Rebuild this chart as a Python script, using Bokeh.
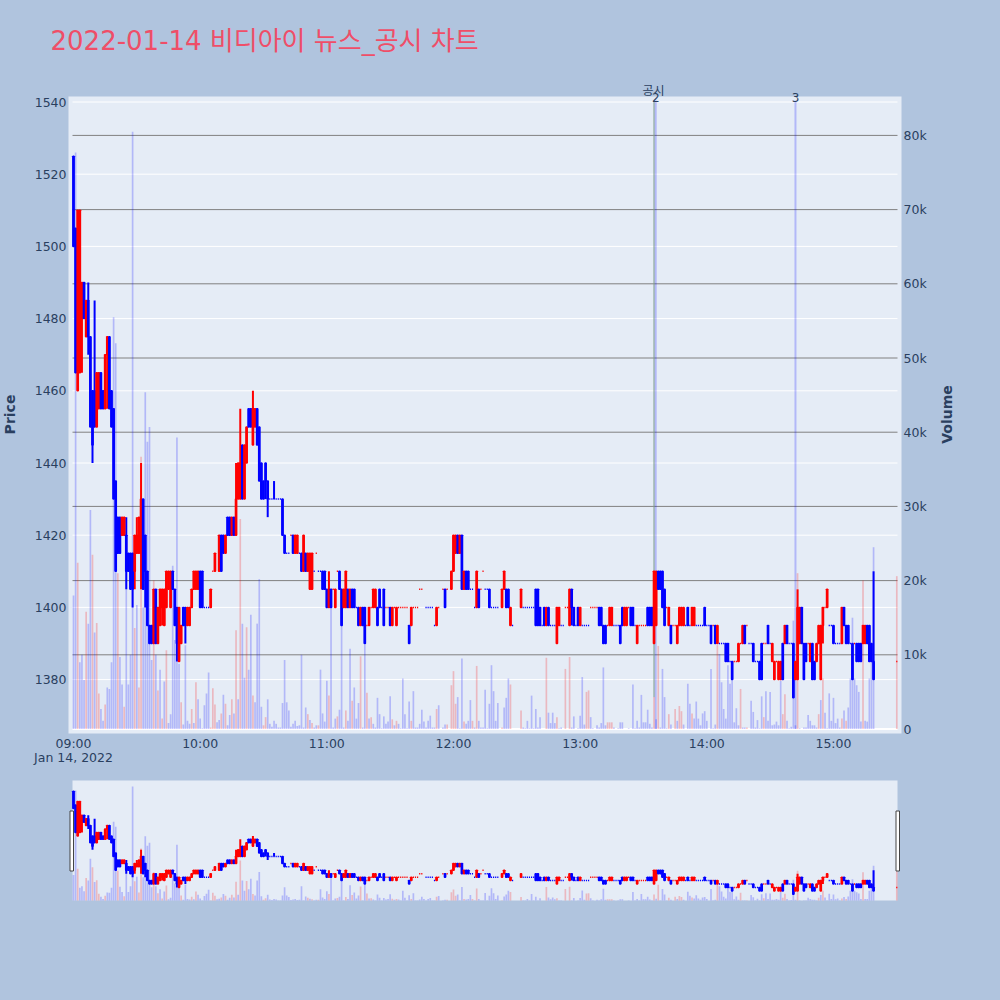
import math
from bokeh.plotting import figure
from bokeh.layouts import column
from bokeh.models import (Range1d, LinearAxis, FixedTicker, Label,
                          CustomJSTickFormatter, ColumnDataSource)
from bokeh.embed import file_html
from bokeh.resources import INLINE

TITLE = "2022-01-14 비디아이 뉴스_공시 차트"
DATE_LABEL = "Jan 14, 2022"
FONT = "'DejaVu Sans', 'Noto Sans CJK KR', sans-serif"
_ = None

# one entry per minute from 09:00; None = no trade in that minute
opens = [
 1525,1505,1460,1465,1480,1490,1475,1485,1475,1460, 1460,1450,1455,1465,1460,1455,1470,1475,1460,1455,
 1435,1425,1425,1420,1420,1420,1415,1415,1415,1410, 1415,1415,1415,1430,1420,1410,1395,1395,1390,1405,
 1390,1395,1400,1395,1400,1405,1400,1410,1405,1400, 1385,1390,1400,1400,1395,1395,1400,1405,1405,1405,
 1410,1410,1400,1400,1400,1400,1410,1410,_,1410, 1420,1420,1415,1425,1425,1420,1425,1420,1430,1430,
 1445,1430,1440,1455,1455,1445,1450,1455,1450,1440, 1435,1440,1435,1430,1430,1430,1430,1430,1430,1430,
 1420,1415,1415,1420,1420,1415,1415,1415,1415,1410, 1415,1410,1405,1405,1410,1415,1410,1410,1410,1410,
 1405,1400,1405,1405,1400,1410,1410,1405,1400,1400, 1405,1400,1405,1405,1400,1400,1395,1400,1400,1395,
 1395,1400,1400,1400,1400,1405,1400,1405,1400,1400, 1400,1395,1400,1395,1400,1400,1400,1400,1400,1395,
 1395,1400,1400,1400,1405,1405,_,1400,1400,1400, 1400,1395,1395,1400,_,1405,1405,1405,_,1405,
 1410,1415,1420,1415,1420,1405,1410,1410,1405,1405, 1400,1400,1405,1405,1410,1405,1405,1405,1400,1400,
 1400,1400,_,1400,1405,1405,1405,1395,1395,_, _,_,1400,1400,1400,1400,1400,1400,1400,1405,
 1405,1400,1395,1400,1395,1400,1395,1395,1395,1390, 1395,1395,1395,1400,1400,1395,1405,1400,1395,1400,
 1395,1395,1395,1395,1395,1400,1400,1400,1400,1400, 1400,1395,1395,1395,1395,1395,1395,1395,1395,1395,
 1400,1395,1395,1400,1400,1400,1395,1390,1395,1395, 1395,1395,1400,1400,1400,1390,1395,1410,1410,1410,
 1405,1400,1395,1395,1395,1395,1390,1395,1395,1395, 1395,1400,1395,1395,1395,1395,1395,1395,1395,1400,
 1395,1395,1395,1395,1395,1390,1390,1390,1390,1390, 1390,1385,1385,1385,1385,1385,1390,1390,1395,1395,
 1390,1390,1390,1385,1385,1385,1390,1390,1390,1395, 1390,1385,1380,1385,1380,1380,1390,1390,1395,1390,
 1390,1390,1380,1380,1390,1400,1390,1390,1390,1385, 1390,1385,1385,1390,1380,1395,1400,1400,1395,1395,
 1395,1390,1390,1390,1390,1400,1395,1395,1390,1390, 1390,1390,1390,1390,1390,1390,1395,1395,1390,1385,
 _,_,_,_,_,_,_,_,_,_, 1385]
closes = [
 1500,1465,1510,1510,1490,1480,1485,1475,1450,1445, 1450,1465,1465,1455,1455,1470,1475,1455,1450,1430,
 1410,1415,1415,1425,1425,1410,1410,1405,1405,1420, 1420,1425,1430,1405,1410,1395,1390,1390,1405,1390,
 1400,1405,1405,1405,1410,1410,1410,1405,1395,1390, 1400,1395,1395,1395,1400,1400,1405,1410,1410,1410,
 1400,1400,1400,1400,1400,1405,1410,1415,_,1420, 1410,1415,1420,1420,1420,1425,1420,1430,1440,1440,
 1430,1445,1450,1450,1450,1455,1455,1445,1435,1430, 1430,1435,1430,1430,1430,1430,1430,1430,1430,1420,
 1415,1415,1415,1420,1415,1420,1420,1415,1410,1420, 1410,1415,1415,1415,1410,1415,1410,1410,1405,1405,
 1400,1405,1400,1405,1405,1410,1405,1395,1405,1410, 1400,1405,1400,1400,1400,1395,1400,1395,1390,1395,
 1400,1400,1405,1405,1395,1400,1400,1395,1400,1400, 1395,1400,1400,1400,1400,1400,1400,1400,1400,1390,
 1400,1400,1400,1400,1405,1405,_,1400,1400,1400, 1400,1395,1400,1400,_,1405,1400,1405,_,1410,
 1420,1420,1415,1420,1405,1410,1405,1405,1405,1405, 1400,1410,1400,1405,1410,1405,1405,1400,1400,1400,
 1400,1400,_,1405,1410,1400,1400,1400,1395,_, _,_,1405,1400,1400,1400,1400,1400,1400,1395,
 1395,1395,1395,1395,1400,1395,1395,1395,1395,1400, 1400,1395,1395,1400,1400,1405,1400,1395,1395,1395,
 1400,1395,1395,1395,1395,1400,1400,1400,1400,1395, 1395,1390,1390,1395,1400,1400,1395,1395,1395,1390,
 1395,1400,1400,1400,1395,1395,1395,1395,1395,1395, 1395,1395,1395,1395,1395,1410,1410,1405,1405,1400,
 1395,1400,1400,1390,1395,1395,1395,1400,1400,1400, 1395,1395,1395,1400,1400,1395,1395,1395,1395,1395,
 1395,1395,1390,1395,1390,1395,1390,1390,1390,1385, 1385,1385,1380,1385,1385,1390,1390,1395,1390,1395,
 1390,1390,1385,1385,1385,1380,1380,1390,1390,1390, 1390,1390,1385,1385,1385,1385,1380,1395,1390,1390,
 1390,1375,1385,1400,1400,1390,1380,1385,1390,1390, 1380,1380,1390,1395,1395,1400,1400,1405,1395,1395,
 1390,1390,1390,1390,1400,1395,1390,1390,1390,1380, 1390,1385,1385,1385,1395,1395,1390,1385,1385,1380,
 _,_,_,_,_,_,_,_,_,_, 1385]
# wicks that reach beyond the candle body
wick_highs = {4:1490, 7:1490, 10:1485, 16:1475, 25:1425, 30:1425, 32:1440, 77:1440, 79:1455, 85:1460,
              95:1435, 121:1410, 343:1405, 379:1410}
wick_lows = {4:1465, 7:1470, 9:1440, 10:1450, 16:1455, 25:1405, 28:1400, 29:1405, 32:1405, 34:1400,
             42:1395, 49:1385, 53:1390, 91:1430, 92:1425, 236:1395, 355:1390}

volumes = [
 18,77.7,22.4,9,10,6.6,15.8,14.2,29.5,23.5, 13,14.3,4.8,2.7,1.1,3.3,5.6,5.4,9,55.5,
 52,21,9.7,6,3,24,6,10,80.5,13.6, 16.7,5.6,36.7,16.4,45.4,38.7,40.7,9.3,20,10,
 5.2,8,1.4,6.4,10.6,0.8,2,22,12,39.3, 8.8,3.6,0.6,11.3,1.1,0.7,2.7,0.8,6.3,4,
 1.4,0.1,3.2,4.8,7.6,0.2,5.5,3.3,0.9,1.2, 2.1,4.6,3.4,0.5,1.9,4,2.1,13.3,4,28.3,
 14.2,6.9,13.7,8,15.4,4.5,3.6,14.2,20.2,3, 0.5,1.6,4,0.7,0.3,1.1,0.7,0.2,0.2,3.5,
 9.3,3.6,2.5,0.3,0.7,1.1,0.4,0.5,10,0.2, 2.9,2,1.2,0.8,0.2,0.5,0.5,8,2.1,1,
 6.5,4.5,17,0.2,1.4,1.7,2.6,14,0.2,2.5, 1.1,10.8,3.8,5.6,1.4,3.5,9.8,0.2,11.4,4.9,
 1.4,1.6,0.7,0.2,4.2,2,0.1,1.7,0.7,1, 4.4,1.3,0.5,1.1,0.7,0.1,6.8,2,0.1,3.7,
 1.1,5.1,0.2,0.2,0.7,2.6,1,0.2,1.1,1.8, 0.2,0.2,2.7,3.2,0,0.2,0.6,0.6,0,5.9,
 7.8,3.4,4.3,0.1,9.5,1,0.7,1.1,3.9,1.1, 0.2,8.5,1.1,0.2,0.2,5.3,0.1,3.4,8.6,5.1,
 1.1,3.5,0,0.2,2.9,4.2,6.8,6,0,0, 0,0,2.5,0.2,0.1,1.1,0.1,4.5,0.1,2.7,
 0.2,1.6,0,0,9.6,2.2,0.8,2.2,0.8,1.6, 0.1,0.2,0,8.1,0,9.7,0.2,1.7,0,0.1,
 1.8,7,0.6,5,5.2,1.6,0.1,0,0.5,0.2, 0.8,8.3,0.5,0.9,0.9,0.9,0.2,0,0.1,0.9,
 0.9,0,0,0.1,0,6,0.1,1.1,0.2,4.6, 0.9,0.9,2.6,0.7,0.2,4.3,1.3,11.2,0.2,8.1,
 4.3,0.1,2,0.6,0,2.7,1.1,3.1,2.4,0.6, 0,6.1,3.4,2.1,1.4,3.7,1.4,0.5,2.1,2.4,
 1.1,0,8.1,0.1,0.6,11.3,10.1,6.3,2.7,1.4, 8.6,6.1,7.5,0.9,2.8,0.5,5.4,0.2,0.2,0.2,
 0,3.8,2.3,0.2,1.2,0.1,4.4,1.6,5.1,1.1, 5,0.5,0.6,1,0.5,6.5,2,4.7,1.1,0.1,
 0.3,14.6,0.5,21,0.1,0,0.2,0.2,1.9,1.1, 0.5,0.5,0.2,2,3.9,6.8,2.2,0.1,4.8,1.1,
 4.2,0.8,1.4,0.2,1.4,2.5,1.1,2.9,6.8,15, 6.8,5.9,5,1,20,1.1,1,6.8,9.2,24.5,
 0,0,0,0,0,0,0,0,0,0, 20.6]
red_volume_minutes = [2,6,9,11,12,15,21,24,29,31,32,38,40,42,44,51,56,58,65,66,67,70,72,75,77,79,82,85,90,91,
 111,113,116,121,125,129,132,136,139,141,151,153,160,172,177,179,180,181,185,189,191,203,207,212,224,229,
 233,235,243,244,253,254,255,275,277,282,285,287,288,293,305,316,319,327,336,337,343,353,355,364,366,374,390]

hour_ticks = [0, 60, 120, 180, 240, 300, 360]
hour_labels = ["09:00", "10:00", "11:00", "12:00", "13:00", "14:00", "15:00"]
price_ticks = [1380, 1400, 1420, 1440, 1460, 1480, 1500, 1520, 1540]
volume_ticks = [0, 10, 20, 30, 40, 50, 60, 70, 80]
disclosure_minute = 275
disclosure_label = "공시"
marker_minutes = [275.8, 342]
marker_labels = ["2", "3"]

PAPER = "#B0C4DE"
PLOT = "#E5ECF6"
TICK = "#2a3f5f"

# pixel layout of the canvas: both figures' frames fill the canvas, so that
# titles and labels outside the plot area are not clipped
PX_PER_MIN = 2.111
def mx(px): return (px - 73) / PX_PER_MIN
def py(px): return 1540 - (px - 101.5) / 3.61
def vy(px): return (728.5 - px) / 7.42
def spy(px): return 1366 + (900 - px) / 0.687       # slider, page px
def svy(px): return (900 - px) / 1.417

# direction: close vs open; unchanged candles follow the previous close
up, prev_c, last = [], None, True
for o, c in zip(opens, closes):
    if o is None:
        up.append(last)
        continue
    if c > o:
        last = True
    elif c < o:
        last = False
    elif prev_c is not None and c != prev_c:
        last = c > prev_c
    up.append(last)
    prev_c = c

rows = [i for i, o in enumerate(opens) if o is not None]
candles = ColumnDataSource(dict(
    x=rows,
    top=[max(opens[i], closes[i]) for i in rows],
    bottom=[min(opens[i], closes[i]) for i in rows],
    high=[wick_highs.get(i, max(opens[i], closes[i])) for i in rows],
    low=[wick_lows.get(i, min(opens[i], closes[i])) for i in rows],
    color=["#ff0000" if up[i] else "#0000ff" for i in rows],
))
vols = ColumnDataSource(dict(
    x=list(range(len(volumes))),
    v=volumes,
    color=["#ff0000" if i in red_volume_minutes else "#0000ff" for i in range(len(volumes))],
))


def draw_series(fig):
    fig.vbar(x="x", top="v", bottom=0, width=0.8, color="color", alpha=0.22, line_width=0,
             source=vols, y_range_name="vol")
    fig.segment(x0="x", x1="x", y0="low", y1="high", color="color", line_width=2, source=candles)
    fig.vbar(x="x", top="top", bottom="bottom", width=0.55, fill_color="color", line_color="color",
             line_width=1.5, source=candles)


main = figure(width=1000, height=770, output_backend="svg", toolbar_location=None,
              x_axis_location=None, y_axis_location=None,
              x_range=Range1d(mx(0), mx(1000)), y_range=Range1d(py(770), py(0)),
              min_border=0, background_fill_color=PAPER, border_fill_color=PAPER, outline_line_color=None)
main.extra_y_ranges = {"vol": Range1d(vy(770), vy(0))}
main.grid.visible = False

L, R = mx(72), mx(897)
main.quad(left=mx(68), right=mx(901), bottom=py(733), top=py(96), fill_color=PLOT, line_color=None)
main.segment(x0=[L] * len(price_ticks), x1=[R] * len(price_ticks), y0=price_ticks, y1=price_ticks,
             line_color="white", line_width=1)
main.segment(x0=[L] * 8, x1=[R] * 8, y0=volume_ticks[1:], y1=volume_ticks[1:], y_range_name="vol",
             line_color="#808080", line_width=1)
main.segment(x0=[L], x1=[R], y0=[0], y1=[0], y_range_name="vol", line_color="white", line_width=2)

x_axis = LinearAxis(fixed_location=py(729), ticker=FixedTicker(ticks=hour_ticks),
                    major_label_overrides=dict(zip(hour_ticks, hour_labels)))
price_axis = LinearAxis(fixed_location=L, ticker=FixedTicker(ticks=price_ticks))
vol_axis = LinearAxis(fixed_location=R, y_range_name="vol", ticker=FixedTicker(ticks=volume_ticks),
                      formatter=CustomJSTickFormatter(code="return tick === 0 ? '0' : tick + 'k'"))
main.add_layout(x_axis, "below")
main.add_layout(price_axis, "left")
main.add_layout(vol_axis, "right")
for ax in [x_axis, price_axis, vol_axis]:
    ax.axis_line_color = None
    ax.major_tick_line_color = None
    ax.minor_tick_line_color = None
    ax.major_tick_in = 0
    ax.major_tick_out = 0
    ax.minor_tick_in = 0
    ax.minor_tick_out = 0
    ax.major_label_text_font = FONT
    ax.major_label_text_font_size = "12.5px"
    ax.major_label_text_color = TICK
    ax.major_label_standoff = 6

main.line(x=[disclosure_minute, disclosure_minute], y=[4.3, vy(100)], y_range_name="vol",
          line_color="#7a9a88", line_width=1)
for m in marker_minutes:
    main.line(x=[m, m], y=[0, vy(100)], y_range_name="vol",
              line_color="#0000ff", line_alpha=0.22, line_width=2)
draw_series(main)


def put(x, y, text, size, color=TICK, style="normal", align="center", angle=0.0):
    main.add_layout(Label(x=x, y=y, text=text, text_font=FONT, text_font_size=size, text_color=color,
                          text_font_style=style, text_align=align, text_baseline="middle", angle=angle))


put(mx(653), py(90), disclosure_label, "12px")
for m, t in zip(marker_minutes, marker_labels):
    put(m, py(97), t, "12px")
put(0, py(757), DATE_LABEL, "12.5px")
put(mx(50), py(40), TITLE, "26px", color="#EF4E68", align="left")
put(mx(9.5), py(414), "Price", "14px", style="bold", angle=math.pi / 2)
put(mx(946), py(414), "Volume", "14px", style="bold", angle=math.pi / 2)

slider = figure(width=1000, height=230, output_backend="svg", toolbar_location=None,
                x_axis_location=None, y_axis_location=None,
                x_range=Range1d(mx(0), mx(1000)), y_range=Range1d(spy(1000), spy(770)),
                min_border=0, background_fill_color=PAPER, border_fill_color=PAPER, outline_line_color=None)
slider.extra_y_ranges = {"vol": Range1d(svy(1000), svy(770))}
slider.grid.visible = False
slider.quad(left=L, right=R, bottom=spy(900), top=spy(780), fill_color=PLOT, line_color=None)
draw_series(slider)
for a, b in ((mx(69.5), mx(73)), (mx(895.5), mx(899))):
    slider.quad(left=a, right=b, bottom=spy(870.5), top=spy(810.5),
                fill_color="white", line_color="#444444", line_width=1)

html = file_html(column(main, slider, spacing=0), INLINE, title="chart")
html = html.replace("</head>", "<style>html,body{margin:0;background:#B0C4DE;overflow:hidden}</style></head>")
open("out.html", "w").write(html)
